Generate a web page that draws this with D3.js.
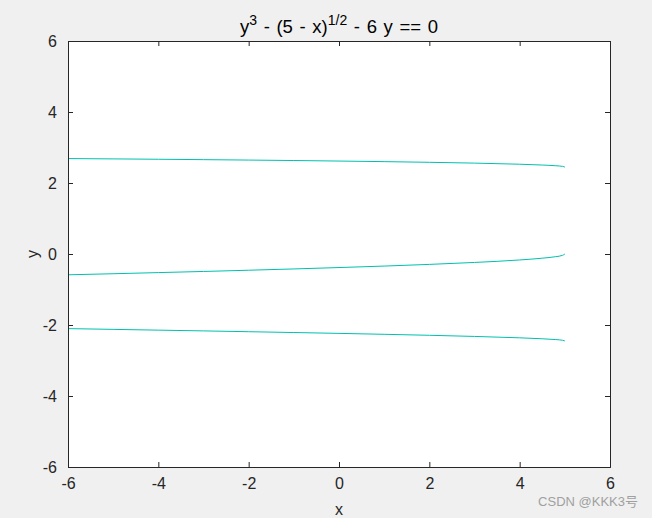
<!DOCTYPE html>
<html><head><meta charset="utf-8">
<script src="https://cdn.jsdelivr.net/npm/d3@7"></script>
<style>
body{margin:0;background:#f0f0f0;}
svg{display:block;font-family:"Liberation Sans",Arial,sans-serif;}
</style></head><body>
<svg id="c" width="652" height="518"></svg>
<script>
const xs = [-6, -5, -4, -3, -2, -1, 0, 1, 2, 3, 4, 4.5, 4.8, 4.95, 5];
const upper = [2.688, 2.679, 2.669, 2.658, 2.646, 2.633, 2.618, 2.602, 2.583, 2.560, 2.529, 2.506, 2.486, 2.468, 2.449];
const middle = [-0.586, -0.556, -0.524, -0.492, -0.457, -0.421, -0.382, -0.340, -0.293, -0.238, -0.168, -0.118, -0.075, -0.037, 0];
const lower = [-2.102, -2.123, -2.145, -2.166, -2.189, -2.212, -2.236, -2.262, -2.290, -2.322, -2.361, -2.388, -2.411, -2.430, -2.449];
const xTicks = [-6, -4, -2, 0, 2, 4, 6];
const yTicks = [-6, -4, -2, 0, 2, 4, 6];

const svg = d3.select("#c");
const L = 68, R = 610, T = 41, B = 467;
const x = d3.scaleLinear().domain([-6, 6]).range([L, R]);
const y = d3.scaleLinear().domain([-6, 6]).range([B, T]);

svg.append("rect").attr("x", L).attr("y", T).attr("width", R - L).attr("height", B - T).attr("fill", "#fff");

const line = d3.line().x((d, i) => x(xs[i])).y(d => y(d)).curve(d3.curveMonotoneX);
[upper, middle, lower].forEach(s => {
  svg.append("path").attr("d", line(s)).attr("fill", "none").attr("stroke", "#00c0b0").attr("stroke-width", 1);
});

const ax = "#262626";
const fs = "16px";
const fmt = d => String(d);
const gB = svg.append("g").attr("transform", `translate(0,${B})`).call(d3.axisBottom(x).tickValues(xTicks).tickSize(-5).tickPadding(11).tickFormat(fmt));
const gT = svg.append("g").attr("transform", `translate(0,${T})`).call(d3.axisTop(x).tickValues(xTicks).tickSize(-5).tickFormat(""));
const gL = svg.append("g").attr("transform", `translate(${L},0)`).call(d3.axisLeft(y).tickValues(yTicks).tickSize(-5).tickPadding(11).tickFormat(fmt));
const gR = svg.append("g").attr("transform", `translate(${R},0)`).call(d3.axisRight(y).tickValues(yTicks).tickSize(-5).tickFormat(""));
[gB, gT, gL, gR].forEach(g => {
  g.select(".domain").attr("stroke", ax);
  g.selectAll(".tick line").attr("stroke", ax);
  g.selectAll("text").attr("fill", ax).style("font-size", fs).style("font-family", '"Liberation Sans",Arial,sans-serif');
});

svg.append("text").attr("x", x(0)).attr("y", 515).attr("text-anchor", "middle").attr("fill", ax).style("font-size", "16px").text("x");
svg.append("text").attr("transform", `translate(38,${y(0)}) rotate(-90)`).attr("text-anchor", "middle").attr("fill", ax).style("font-size", "16px").text("y");

const t = svg.append("text").attr("x", x(0)).attr("y", 33).attr("text-anchor", "middle").attr("fill", "#000").style("font-size", "18.5px").style("word-spacing", "1.5px");
t.append("tspan").text("y");
t.append("tspan").attr("dy", -8).style("font-size", "14px").text("3");
t.append("tspan").attr("dy", 8).text(" - (5 - x)");
t.append("tspan").attr("dy", -8).style("font-size", "14px").text("1/2");
t.append("tspan").attr("dy", 8).text(" - 6 y == 0");

svg.append("text").attr("x", 638).attr("y", 506).attr("text-anchor", "end").attr("fill", "#a0a0a0").style("font-size", "13px").style("font-family", '"Liberation Sans","Noto Sans CJK SC",sans-serif').text("CSDN @KKK3号");
</script>
</body></html>
